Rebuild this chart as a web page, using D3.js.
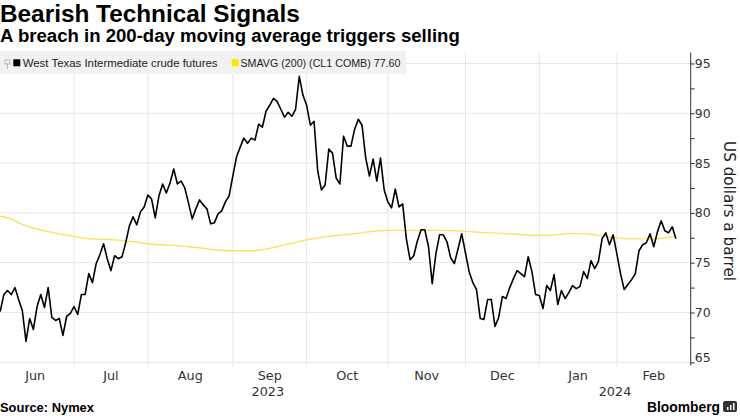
<!DOCTYPE html>
<html><head><meta charset="utf-8">
<script src="https://cdn.jsdelivr.net/npm/d3@7"></script>
<style>html,body{margin:0;padding:0;background:#fff;}svg{display:block;}</style>
</head><body>
<svg id="c" width="740" height="416"></svg>
<script>
// ---- data ----
const months = ["Jun","Jul","Aug","Sep","Oct","Nov","Dec","Jan","Feb"];
// index (trading day, Jun 1 2023 = 0) of first trading day of each month, plus end
const monthStart = [0,21,41,64,84,106,127,147,168,188];
const years = ["2023","2024"];
const yearMonths = [[0,6],[7,8]];
const yTicks = [65,70,75,80,85,90,95];
const wti = [
 70.1,71.8,72.2,71.8,72.5,71.3,70.2,67.1,69.4,68.3,70.6,71.8,70.5,72.5,69.5,69.2,69.4,67.7,69.6,69.9,70.6,
 69.8,71.8,71.8,73.9,73.0,74.9,75.8,76.9,75.4,74.2,75.7,75.4,75.6,77.0,78.7,79.6,78.8,80.1,80.6,81.8,
 81.4,79.5,81.7,82.9,82.0,83.0,84.4,82.9,83.2,82.5,81.0,79.4,80.4,81.3,80.8,80.4,78.9,79.0,79.9,80.2,81.1,81.7,83.7,
 85.6,86.6,87.5,87.0,87.5,87.3,88.9,88.6,90.2,90.8,91.5,91.2,90.4,89.6,90.1,89.7,90.4,93.7,91.8,90.8,
 88.8,89.2,84.2,82.3,82.8,86.4,86.0,83.5,82.9,87.7,86.7,86.7,88.4,89.4,88.8,85.5,83.7,85.4,83.2,85.5,82.3,81.1,
 80.5,82.4,80.6,80.9,77.4,75.3,75.7,77.2,78.3,78.3,76.6,72.9,75.9,77.8,77.8,77.1,75.5,74.9,76.4,77.9,76.0,
 74.1,73.0,72.3,69.4,69.3,71.3,71.3,68.6,69.5,71.6,71.4,72.5,73.4,74.2,73.9,73.6,75.6,74.1,71.8,71.7,
 70.4,72.7,72.2,73.8,70.8,72.2,71.4,72.0,72.7,72.4,72.6,74.1,73.4,75.2,74.4,75.1,77.4,78.0,76.8,77.8,75.9,
 73.9,72.3,72.8,73.3,73.9,76.2,76.8,77.0,77.9,76.6,78.1,79.2,78.2,78.0,78.6,77.4
];
// 200-day moving average, sampled (trading-day index, value)
const smaIdx = [0,3,5,8,11,14,16,19,22,25,27,31,36,40,44,48,51,55,58,63,68,71,75,79,83,88,93,98,102,106,112,118,124,130,136,142,147,152,155,159,163,167,170,175,179,182,183];
const smaVal = [79.66,79.4,79.0,78.6,78.3,78.05,77.9,77.7,77.5,77.38,77.35,77.3,77.1,76.9,76.8,76.72,76.6,76.45,76.3,76.2,76.2,76.3,76.6,76.95,77.3,77.6,77.8,78.0,78.2,78.25,78.25,78.25,78.2,78.05,77.95,77.8,77.75,77.85,77.95,77.9,77.7,77.5,77.4,77.4,77.45,77.6,77.6];
const seriesNames = ["West Texas Intermediate crude futures","SMAVG (200) (CL1 COMB) 77.60"];

// ---- chart ----
const svg = d3.select("#c");
const plotL = 0, plotR = 690.7, plotT = 52.5, plotB = 362.3;
const x = d3.scaleLinear().domain([-1,187]).range([-3.54, plotR]);
const y = d3.scaleLinear().domain([65,96.1]).range([plotB, plotT]);

function fit(sel, target){
  const w = sel.node().getComputedTextLength();
  const fs = parseFloat(sel.attr("font-size"));
  sel.attr("font-size", (fs*target/w).toFixed(2));
}

// gridlines
const g = svg.append("g");
g.selectAll("line.h").data(yTicks).join("line")
  .attr("x1",plotL).attr("x2",plotR).attr("y1",d=>y(d)).attr("y2",d=>y(d))
  .attr("stroke","#e6e6e6").attr("stroke-width",1);
const bounds = monthStart.slice(1,-1).map(s=>s-1);
g.selectAll("line.v").data(bounds).join("line")
  .attr("x1",d=>x(d)).attr("x2",d=>x(d)).attr("y1",plotT).attr("y2",plotB+4)
  .attr("stroke","#e6e6e6").attr("stroke-width",1);

// clip
svg.append("clipPath").attr("id","clp").append("rect")
  .attr("x",0).attr("y",plotT).attr("width",plotR).attr("height",plotB-plotT+2);

// SMA line
const smaData = smaIdx.map((d,i)=>[d,smaVal[i]]);
svg.append("path").datum(smaData)
  .attr("clip-path","url(#clp)")
  .attr("fill","none").attr("stroke","#f6e35a").attr("stroke-width",1.3)
  .attr("d", d3.line().x(d=>x(d[0])).y(d=>y(d[1])).curve(d3.curveMonotoneX));

// WTI line
svg.append("path").datum(wti)
  .attr("clip-path","url(#clp)")
  .attr("fill","none").attr("stroke","#000").attr("stroke-width",1.6)
  .attr("stroke-linejoin","round")
  .attr("d", d3.line().x((d,i)=>x(i)).y(d=>y(d)));

// right axis
const yAxis = d3.axisRight(y).tickValues(d3.range(65,96,2.5)).tickSize(4)
  .tickFormat(d=> yTicks.includes(d) ? d : "");
const ax = svg.append("g").attr("transform",`translate(${plotR},0)`).call(yAxis);
ax.select(".domain").attr("d",`M0,${plotT}V${plotB+3}`).attr("stroke","#333");
ax.selectAll(".tick line").attr("stroke","#333");
ax.selectAll(".tick text").attr("x",4).attr("font-family","DejaVu Sans").attr("font-size",12.5).attr("fill","#333");
ax.selectAll(".tick").filter(d=>d===65).select("text").attr("dy","-0.1em");

// axis title
const at = svg.append("text").attr("transform","translate(724,211) rotate(90)")
  .attr("text-anchor","middle").attr("font-family","DejaVu Sans").attr("font-size",14.5)
  .attr("fill","#222").text("US dollars a barrel");
fit(at,140);

// month labels
const mx = months.map((m,i)=>(x(monthStart[i]-1)+x(monthStart[i+1]-1))/2);
svg.selectAll("text.m").data(months).join("text")
  .attr("x",(d,i)=>mx[i]).attr("y",380).attr("text-anchor","middle")
  .attr("font-family","DejaVu Sans").attr("font-size",12.8).attr("fill","#333").text(d=>d);
svg.selectAll("text.yr").data(years).join("text")
  .attr("x",(d,i)=>(x(monthStart[yearMonths[i][0]]-1)+x(monthStart[yearMonths[i][1]+1]-1))/2)
  .attr("y",396).attr("text-anchor","middle")
  .attr("font-family","DejaVu Sans").attr("font-size",12.8).attr("fill","#333").text(d=>d);

// legend
svg.append("rect").attr("x",0).attr("y",51).attr("width",406).attr("height",23)
  .attr("fill","#f0f0f0").attr("fill-opacity",0.85);
// pin icon
svg.append("rect").attr("x",5).attr("y",60).attr("width",5).attr("height",4).attr("fill","none").attr("stroke","#aaa").attr("stroke-width",0.8);
svg.append("line").attr("x1",7.5).attr("x2",7.5).attr("y1",64).attr("y2",69).attr("stroke","#aaa").attr("stroke-width",0.8);
svg.append("rect").attr("x",13.3).attr("y",59.3).attr("width",7).attr("height",7).attr("fill","#000");
svg.append("rect").attr("x",231.7).attr("y",59.3).attr("width",7).attr("height",7).attr("fill","#ffe600");
const l1 = svg.append("text").attr("x",22.7).attr("y",66.5).attr("font-family","Liberation Sans")
  .attr("font-size",11).attr("fill","#222").text(seriesNames[0]);
fit(l1,195);
const l2 = svg.append("text").attr("x",240.5).attr("y",66.5).attr("font-family","Liberation Sans")
  .attr("font-size",11).attr("fill","#222").text(seriesNames[1]);
fit(l2,160);

// titles
const t1 = svg.append("text").attr("x",0).attr("y",21.5).attr("font-family","Liberation Sans")
  .attr("font-weight","bold").attr("font-size",21).attr("fill","#000").text("Bearish Technical Signals");
fit(t1,300);
const t2 = svg.append("text").attr("x",0).attr("y",42).attr("font-family","Liberation Sans")
  .attr("font-weight","bold").attr("font-size",16).attr("fill","#000").text("A breach in 200-day moving average triggers selling");
fit(t2,460);

// footer
const s1 = svg.append("text").attr("x",0).attr("y",411.5).attr("font-family","Liberation Sans")
  .attr("font-weight","bold").attr("font-size",12).attr("fill","#000").text("Source: Nymex");
fit(s1,94);
const b1 = svg.append("text").attr("x",720).attr("y",411.5).attr("text-anchor","end").attr("font-family","Liberation Sans")
  .attr("font-weight","bold").attr("font-size",15).attr("fill","#000").text("Bloomberg");
fit(b1,73);
svg.append("rect").attr("x",723).attr("y",401).attr("width",14).attr("height",11).attr("rx",2).attr("fill","#333");
[[727,407,1.5,3],[730,405,1.5,5],[733,403,1.5,7]].forEach(r=>
  svg.append("rect").attr("x",r[0]).attr("y",r[1]).attr("width",r[2]).attr("height",r[3]).attr("fill","#fff"));
</script>
</body></html>
